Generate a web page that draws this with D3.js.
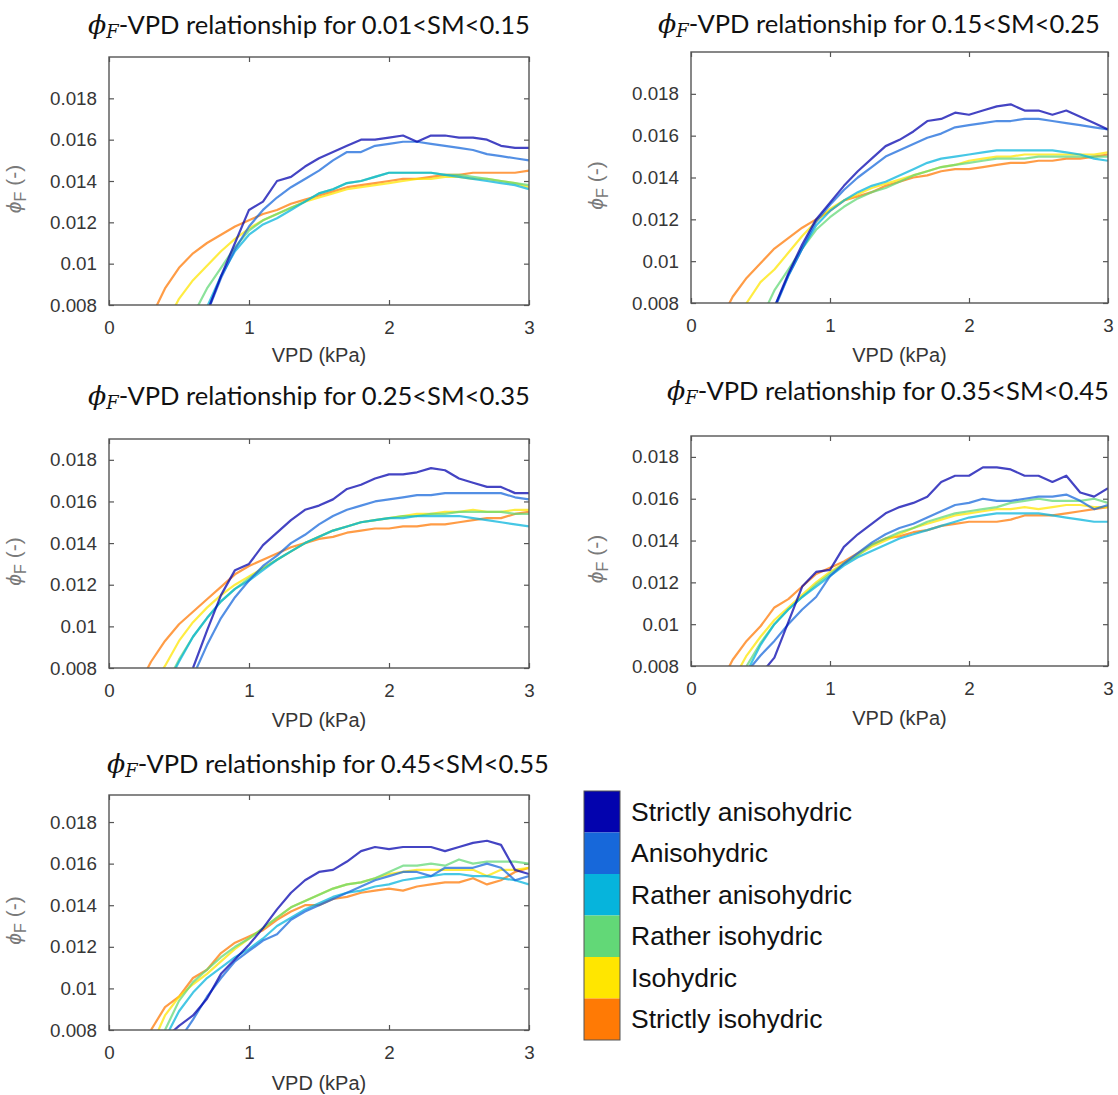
<!DOCTYPE html>
<html>
<head>
<meta charset="utf-8">
<script src="https://cdn.jsdelivr.net/npm/d3@7"></script>
<style>
  body { margin: 0; background: #fff; }
  svg { display: block; }
</style>
</head>
<body>
<div id="chart"></div>
<script>
// VPD grid (kPa) shared by every series
const vpd = [0.2, 0.3, 0.4, 0.5, 0.6, 0.7, 0.8, 0.9, 1.0, 1.1, 1.2, 1.3, 1.4, 1.5, 1.6, 1.7, 1.8, 1.9, 2.0,
             2.1, 2.2, 2.3, 2.4, 2.5, 2.6, 2.7, 2.8, 2.9, 3.0];

const categories = ["Strictly anisohydric", "Anisohydric", "Rather anisohydric",
                    "Rather isohydric", "Isohydric", "Strictly isohydric"];

const smRanges = ["0.01<SM<0.15", "0.15<SM<0.25", "0.25<SM<0.35", "0.35<SM<0.45", "0.45<SM<0.55"];

const xTicks = [0, 1, 2, 3];
const yTicks = [0.008, 0.01, 0.012, 0.014, 0.016, 0.018];
const yTickLabels = ["0.008", "0.01", "0.012", "0.014", "0.016", "0.018"];
const yMax = [0.02, 0.02, 0.019, 0.019, 0.0193];

// phiF per category (same order as categories), null = not plotted
const phiF_sm1 = [
  [null,null,null,null,null,0.00765,0.0094,0.0110,0.0126,0.0130,0.0140,0.0142,0.0147,0.0151,0.0154,0.0157,0.0160,0.0160,0.0161,0.0162,0.0159,0.0162,0.0162,0.0161,0.0161,0.0160,0.0157,0.0156,0.0156],
  [null,null,null,null,null,0.0076,0.0093,0.0107,0.0118,0.0126,0.0132,0.0137,0.0141,0.0145,0.0150,0.0154,0.0154,0.0157,0.0158,0.0159,0.0159,0.0158,0.0157,0.0156,0.0155,0.0153,0.0152,0.0151,0.0150],
  [null,null,null,null,null,0.0079,0.0094,0.0106,0.0114,0.0119,0.0122,0.0126,0.0130,0.0134,0.0136,0.0139,0.0140,0.0142,0.0144,0.0144,0.0144,0.0144,0.0143,0.0142,0.0141,0.0140,0.0139,0.0138,0.0136],
  [null,null,null,null,0.0075,0.0088,0.0098,0.0108,0.0116,0.0121,0.0124,0.0127,0.0130,0.0134,0.0136,0.0139,0.0140,0.0142,0.0144,0.0144,0.0144,0.0144,0.0143,0.0143,0.0142,0.0141,0.0140,0.0139,0.0138],
  [null,null,0.0070,0.0083,0.0092,0.0099,0.0106,0.0112,0.0117,0.0121,0.0124,0.0127,0.0130,0.0132,0.0134,0.0136,0.0137,0.0138,0.0139,0.0140,0.0141,0.0141,0.0142,0.0142,0.0141,0.0141,0.0140,0.0139,0.0137],
  [null,0.0074,0.0088,0.0098,0.0105,0.0110,0.0114,0.0118,0.0121,0.0124,0.0126,0.0129,0.0131,0.0133,0.0135,0.0137,0.0138,0.0139,0.0140,0.0141,0.0141,0.0142,0.0143,0.0143,0.0144,0.0144,0.0144,0.0144,0.0145]
];
const phiF_sm2 = [
  [null,null,null,null,0.0078,0.0094,0.0108,0.0120,0.0128,0.0136,0.0143,0.0149,0.0155,0.0158,0.0162,0.0167,0.0168,0.0171,0.0170,0.0172,0.0174,0.0175,0.0172,0.0172,0.0170,0.0172,0.0169,0.0166,0.0163],
  [null,null,null,null,0.0077,0.0093,0.0106,0.0119,0.0127,0.0134,0.0140,0.0145,0.0150,0.0153,0.0156,0.0159,0.0161,0.0164,0.0165,0.0166,0.0167,0.0167,0.0168,0.0168,0.0167,0.0166,0.0165,0.0164,0.0163],
  [null,null,null,null,0.0078,0.0093,0.0106,0.0117,0.0124,0.0129,0.0133,0.0136,0.0138,0.0141,0.0144,0.0147,0.0149,0.0150,0.0151,0.0152,0.0153,0.0153,0.0153,0.0153,0.0153,0.0152,0.0151,0.0149,0.0148],
  [null,null,null,0.0072,0.0086,0.0096,0.0106,0.0115,0.0121,0.0126,0.0130,0.0133,0.0135,0.0138,0.0141,0.0143,0.0145,0.0146,0.0147,0.0148,0.0149,0.0149,0.0149,0.0150,0.0150,0.0150,0.0150,0.0150,0.0150],
  [null,0.0068,0.0080,0.0090,0.0096,0.0104,0.0112,0.0119,0.0125,0.0129,0.0132,0.0135,0.0137,0.0139,0.0141,0.0143,0.0145,0.0146,0.0148,0.0149,0.0150,0.0150,0.0151,0.0151,0.0151,0.0151,0.0151,0.0151,0.0152],
  [0.0070,0.0083,0.0092,0.0099,0.0106,0.0111,0.0116,0.0120,0.0124,0.0129,0.0131,0.0133,0.0136,0.0138,0.0140,0.0141,0.0143,0.0144,0.0144,0.0145,0.0146,0.0147,0.0147,0.0148,0.0148,0.0149,0.0149,0.0150,0.0151]
];
const phiF_sm3 = [
  [null,null,null,null,0.0080,0.0098,0.0115,0.0127,0.0130,0.0139,0.0145,0.0151,0.0156,0.0158,0.0161,0.0166,0.0168,0.0171,0.0173,0.0173,0.0174,0.0176,0.0175,0.0171,0.0169,0.0167,0.0167,0.0164,0.0164],
  [null,null,null,null,0.0076,0.0091,0.0104,0.0114,0.0122,0.0129,0.0134,0.0140,0.0144,0.0149,0.0153,0.0156,0.0158,0.0160,0.0161,0.0162,0.0163,0.0163,0.0164,0.0164,0.0164,0.0164,0.0164,0.0162,0.0161],
  [null,null,0.0070,0.0083,0.0095,0.0104,0.0112,0.0118,0.0122,0.0127,0.0132,0.0136,0.0140,0.0143,0.0146,0.0148,0.0150,0.0151,0.0152,0.0152,0.0153,0.0153,0.0153,0.0153,0.0152,0.0151,0.0150,0.0149,0.0148],
  [null,null,0.0071,0.0084,0.0095,0.0104,0.0112,0.0118,0.0123,0.0128,0.0132,0.0136,0.0140,0.0143,0.0146,0.0148,0.0150,0.0151,0.0152,0.0153,0.0153,0.0154,0.0154,0.0155,0.0155,0.0155,0.0155,0.0154,0.0154],
  [null,0.0070,0.0081,0.0093,0.0102,0.0109,0.0115,0.0120,0.0124,0.0128,0.0132,0.0136,0.0140,0.0143,0.0146,0.0148,0.0150,0.0151,0.0152,0.0153,0.0154,0.0154,0.0155,0.0155,0.0156,0.0155,0.0155,0.0156,0.0156],
  [0.0070,0.0083,0.0093,0.0101,0.0107,0.0113,0.0119,0.0125,0.0129,0.0132,0.0135,0.0138,0.0140,0.0142,0.0143,0.0145,0.0146,0.0147,0.0147,0.0148,0.0148,0.0149,0.0149,0.0150,0.0151,0.0152,0.0152,0.0154,0.0155]
];
const phiF_sm4 = [
  [null,null,null,0.0076,0.0084,0.0101,0.0118,0.0125,0.0126,0.0137,0.0143,0.0148,0.0153,0.0156,0.0158,0.0161,0.0168,0.0171,0.0171,0.0175,0.0175,0.0174,0.0171,0.0171,0.0168,0.0171,0.0163,0.0161,0.0165],
  [null,null,0.0077,0.0085,0.0092,0.0100,0.0107,0.0113,0.0123,0.0129,0.0134,0.0139,0.0143,0.0146,0.0148,0.0151,0.0154,0.0157,0.0158,0.0160,0.0159,0.0159,0.0160,0.0161,0.0161,0.0162,0.0159,0.0155,0.0157],
  [null,null,0.0077,0.0090,0.0100,0.0107,0.0113,0.0118,0.0123,0.0128,0.0132,0.0135,0.0138,0.0141,0.0143,0.0145,0.0147,0.0149,0.0151,0.0152,0.0153,0.0153,0.0153,0.0153,0.0152,0.0151,0.0150,0.0149,0.0149],
  [null,null,0.0080,0.0091,0.0100,0.0107,0.0113,0.0119,0.0124,0.0129,0.0133,0.0138,0.0141,0.0144,0.0146,0.0149,0.0151,0.0153,0.0154,0.0155,0.0156,0.0158,0.0159,0.0160,0.0159,0.0159,0.0159,0.0160,0.0158],
  [null,0.0073,0.0085,0.0094,0.0102,0.0108,0.0114,0.0120,0.0125,0.0129,0.0133,0.0137,0.0140,0.0143,0.0146,0.0148,0.0150,0.0152,0.0153,0.0154,0.0155,0.0155,0.0156,0.0155,0.0156,0.0157,0.0157,0.0156,0.0156],
  [0.0070,0.0083,0.0092,0.0099,0.0108,0.0112,0.0118,0.0124,0.0127,0.0130,0.0134,0.0138,0.0141,0.0142,0.0144,0.0145,0.0147,0.0148,0.0149,0.0149,0.0149,0.0150,0.0152,0.0152,0.0152,0.0153,0.0154,0.0155,0.0156]
];
const phiF_sm5 = [
  [null,null,0.0076,0.0082,0.0087,0.0095,0.0107,0.0114,0.0121,0.0129,0.0138,0.0146,0.0152,0.0156,0.0157,0.0161,0.0166,0.0168,0.0167,0.0168,0.0168,0.0168,0.0166,0.0168,0.0170,0.0171,0.0169,0.0157,0.0155],
  [null,null,null,0.0075,0.0085,0.0096,0.0105,0.0113,0.0118,0.0123,0.0126,0.0133,0.0137,0.0140,0.0143,0.0146,0.0149,0.0152,0.0154,0.0156,0.0156,0.0154,0.0158,0.0158,0.0158,0.0160,0.0158,0.0152,0.0154],
  [null,null,0.0076,0.0089,0.0098,0.0105,0.0110,0.0115,0.0119,0.0124,0.0130,0.0134,0.0138,0.0141,0.0144,0.0146,0.0147,0.0149,0.0150,0.0152,0.0153,0.0154,0.0155,0.0155,0.0154,0.0154,0.0153,0.0152,0.0150],
  [null,null,0.0080,0.0094,0.0103,0.0109,0.0115,0.0120,0.0124,0.0129,0.0134,0.0139,0.0142,0.0145,0.0148,0.0150,0.0151,0.0153,0.0156,0.0159,0.0159,0.0160,0.0159,0.0162,0.0160,0.0161,0.0161,0.0161,0.0160],
  [null,0.0072,0.0087,0.0096,0.0102,0.0107,0.0113,0.0119,0.0124,0.0129,0.0134,0.0139,0.0142,0.0145,0.0148,0.0150,0.0151,0.0153,0.0155,0.0156,0.0157,0.0157,0.0157,0.0157,0.0157,0.0154,0.0157,0.0157,0.0158],
  [null,0.0080,0.0091,0.0096,0.0105,0.0109,0.0117,0.0122,0.0125,0.0128,0.0133,0.0137,0.0140,0.0140,0.0143,0.0144,0.0146,0.0147,0.0148,0.0147,0.0149,0.0150,0.0151,0.0151,0.0153,0.0150,0.0152,0.0156,0.0158]
];
const panelsData = [phiF_sm1, phiF_sm2, phiF_sm3, phiF_sm4, phiF_sm5];

// colours (legend order) and panel placement
const colors = ["#0303ae", "#1768da", "#06b4dc", "#62d877", "#ffe600", "#ff7a05"];
const layout = [
  {left: 109, right: 529,  top: 57,  bottom: 305,  titleX: 309, titleY: 34,  xlabY: 362},
  {left: 691, right: 1108, top: 52,  bottom: 303,  titleX: 879, titleY: 33,  xlabY: 362},
  {left: 109, right: 529,  top: 439, bottom: 668,  titleX: 309, titleY: 405, xlabY: 727},
  {left: 691, right: 1108, top: 436, bottom: 666,  titleX: 888, titleY: 400, xlabY: 725},
  {left: 109, right: 529,  top: 795, bottom: 1030, titleX: 328, titleY: 773, xlabY: 1090}
];

const svg = d3.select("#chart")
  .append("svg")
  .attr("width", 1118)
  .attr("height", 1095)
  .attr("viewBox", "0 0 1118 1095");

svg.append("rect").attr("width", 1118).attr("height", 1095).attr("fill", "#fff");

const tickFont = "'Liberation Sans', Arial, sans-serif";
const titleTarget = 442;

panelsData.forEach(function(series, p) {
  const L = layout[p];

  const x = d3.scaleLinear().domain([0, 3]).range([L.left, L.right]);
  const y = d3.scaleLinear().domain([0.008, yMax[p]]).range([L.bottom, L.top]);

  const g = svg.append("g");

  // clip to the axes box
  g.append("clipPath")
    .attr("id", "clip" + p)
    .append("rect")
    .attr("x", L.left).attr("y", L.top)
    .attr("width", L.right - L.left).attr("height", L.bottom - L.top);

  // axes (ticks point inward, MATLAB style)
  const axB = g.append("g")
    .attr("transform", `translate(0,${L.bottom})`)
    .call(d3.axisBottom(x).tickValues(xTicks).tickFormat(d3.format("d"))
      .tickSizeInner(-5).tickSizeOuter(0).tickPadding(16));
  const axL = g.append("g")
    .attr("transform", `translate(${L.left},0)`)
    .call(d3.axisLeft(y).tickValues(yTicks).tickFormat((d, i) => yTickLabels[i])
      .tickSizeInner(-5).tickSizeOuter(0).tickPadding(12));
  const axT = g.append("g")
    .attr("transform", `translate(0,${L.top})`)
    .call(d3.axisTop(x).tickValues(xTicks).tickFormat("").tickSizeInner(-5).tickSizeOuter(0));
  const axR = g.append("g")
    .attr("transform", `translate(${L.right},0)`)
    .call(d3.axisRight(y).tickValues(yTicks).tickFormat("").tickSizeInner(-5).tickSizeOuter(0));

  [axB, axL, axT, axR].forEach(function(a) {
    a.select(".domain").remove();
    a.selectAll(".tick line").attr("stroke", "#555").attr("stroke-width", 1.2);
    a.selectAll(".tick text")
      .attr("fill", "#363636")
      .style("font-family", tickFont)
      .style("font-size", "18.8px");
  });

  // lines, orange first so the darker blues sit on top
  const line = d3.line()
    .defined(d => d[1] !== null)
    .x(d => x(d[0]))
    .y(d => y(d[1]));

  const order = d3.range(series.length).reverse();
  g.append("g")
    .attr("clip-path", `url(#clip${p})`)
    .selectAll("path")
    .data(order)
    .join("path")
      .attr("d", k => line(vpd.map((v, i) => [v, series[k][i]])))
      .attr("fill", "none")
      .attr("stroke", k => colors[k])
      .attr("stroke-opacity", 0.74)
      .attr("stroke-width", 2.2)
      .attr("stroke-linejoin", "round");

  // box
  g.append("rect")
    .attr("x", L.left).attr("y", L.top)
    .attr("width", L.right - L.left).attr("height", L.bottom - L.top)
    .attr("fill", "none")
    .attr("stroke", "#555")
    .attr("stroke-width", 1.4);

  // x label
  g.append("text")
    .attr("x", (L.left + L.right) / 2)
    .attr("y", L.xlabY)
    .attr("text-anchor", "middle")
    .attr("fill", "#363636")
    .style("font-family", tickFont)
    .style("font-size", "20px")
    .text("VPD (kPa)");

  // y label
  const yl = g.append("text")
    .attr("transform", `translate(${L.left - 88},${(L.top + L.bottom) / 2 + 8}) rotate(-90)`)
    .attr("text-anchor", "middle")
    .attr("fill", "#7a7a7a")
    .style("font-family", tickFont)
    .style("font-size", "21px");
  yl.append("tspan").style("font-style", "italic").text("\u03D5");
  yl.append("tspan").attr("dy", 5).style("font-size", "16px").text("F");
  yl.append("tspan").attr("dy", -5).text(" (-)");

  // title
  const t = svg.append("text")
    .attr("x", L.titleX)
    .attr("y", L.titleY)
    .attr("text-anchor", "middle")
    .attr("fill", "#111")
    .style("font-family", "Lato, 'Open Sans', sans-serif")
    .style("font-size", "24px");
  t.append("tspan")
    .style("font-family", "'DejaVu Serif', serif")
    .style("font-style", "italic")
    .style("font-size", "1.05em")
    .text("\u03D5");
  t.append("tspan")
    .attr("dy", "0.25em")
    .style("font-family", "'DejaVu Serif', serif")
    .style("font-style", "italic")
    .style("font-size", "0.7em")
    .text("F");
  t.append("tspan")
    .attr("dy", "-0.18em")
    .text("-VPD relationship for " + smRanges[p]);
  const w = t.node().getComputedTextLength();
  t.style("font-size", (24 * titleTarget / w).toFixed(2) + "px");
});

// legend colour bar
const legend = svg.append("g");
const segH = 41.5;
legend.selectAll("rect.seg")
  .data(categories)
  .join("rect")
    .attr("class", "seg")
    .attr("x", 584)
    .attr("y", (d, i) => 791 + i * segH)
    .attr("width", 36)
    .attr("height", segH)
    .attr("fill", (d, i) => colors[i]);
legend.append("rect")
  .attr("x", 584).attr("y", 791)
  .attr("width", 36).attr("height", segH * categories.length)
  .attr("fill", "none")
  .attr("stroke", "#555")
  .attr("stroke-width", 1);
legend.selectAll("text")
  .data(categories)
  .join("text")
    .attr("x", 631)
    .attr("y", (d, i) => 791 + i * segH + segH / 2 + 9)
    .attr("fill", "#111")
    .style("font-family", tickFont)
    .style("font-size", "26.5px")
    .text(d => d);
</script>
</body>
</html>
